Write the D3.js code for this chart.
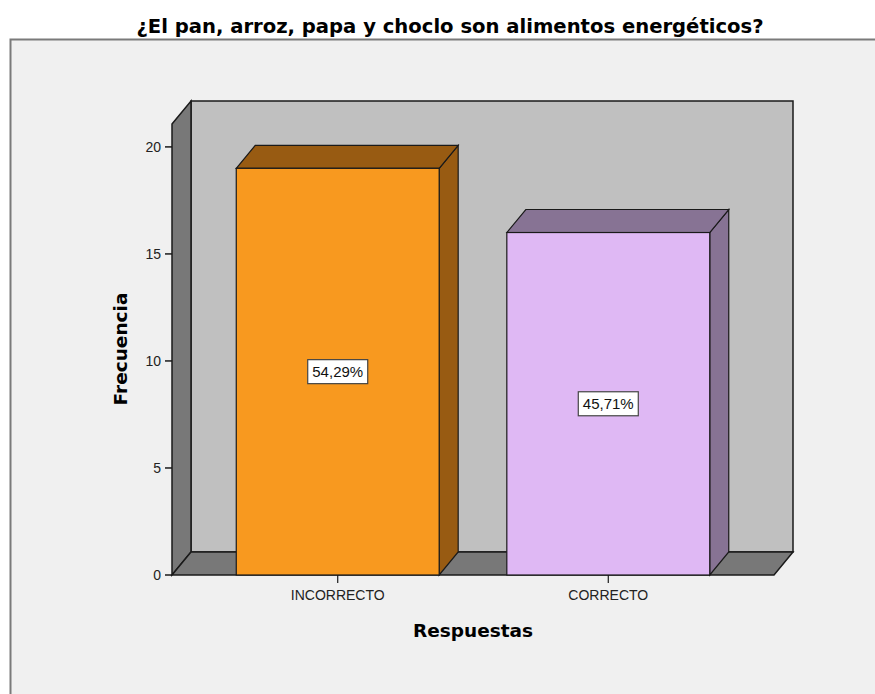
<!DOCTYPE html>
<html>
<head>
<meta charset="utf-8">
<script src="https://cdn.jsdelivr.net/npm/d3@7"></script>
<style>
  html, body { margin: 0; padding: 0; background: #ffffff; }
  svg { display: block; }
</style>
</head>
<body>
<script>
const categories = ["INCORRECTO", "CORRECTO"];
const counts = [19, 16];
const percentLabels = ["54,29%", "45,71%"];
const yTicks = [0, 5, 10, 15, 20];
const yMax = 21.07;
const title = "¿El pan, arroz, papa y choclo son alimentos energéticos?";
const xTitle = "Respuestas";
const yTitle = "Frecuencia";
const frontColors = ["#F8991F", "#DFB8F4"];
const sideColors = ["#985B12", "#877394"];

const W = 875, H = 694;
const svg = d3.select("body").append("svg").attr("width", W).attr("height", H);

// background panel
svg.append("rect").attr("x", 0).attr("y", 0).attr("width", W).attr("height", H).attr("fill", "#ffffff");
svg.append("rect").attr("x", 10).attr("y", 40).attr("width", W - 10).attr("height", H - 40).attr("fill", "#f0f0f0");
svg.append("path").attr("d", `M10.5,${H} L10.5,39.5 L${W},39.5`).attr("fill", "none").attr("stroke", "#7a7a7a").attr("stroke-width", 2);

svg.append("text").attr("x", 450).attr("y", 33).attr("text-anchor", "middle")
  .attr("font-family", "DejaVu Sans, sans-serif").attr("font-weight", "bold")
  .attr("font-size", 19.6).attr("fill", "#000").text(title);

const x0 = 172, x1 = 774, yBottom = 575, yTop = 124;
const dx = 19, dy = -23;

const y = d3.scaleLinear().domain([0, yMax]).range([yBottom, yTop]);
const x = d3.scaleBand().domain(categories).range([x0, x1]).paddingInner(0.25).paddingOuter(0.2375);

const g = svg.append("g");
const strokeC = "#1a1a1a";

// back wall
g.append("rect").attr("x", x0 + dx).attr("y", yTop + dy).attr("width", x1 - x0).attr("height", yBottom - yTop)
  .attr("fill", "#c0c0c0").attr("stroke", strokeC).attr("stroke-width", 1.5);
// left wall
g.append("polygon").attr("points", [[x0, yTop], [x0 + dx, yTop + dy], [x0 + dx, yBottom + dy], [x0, yBottom]].join(" "))
  .attr("fill", "#787878").attr("stroke", strokeC).attr("stroke-width", 1.5);
// floor
g.append("polygon").attr("points", [[x0, yBottom], [x0 + dx, yBottom + dy], [x1 + dx, yBottom + dy], [x1, yBottom]].join(" "))
  .attr("fill", "#787878").attr("stroke", strokeC).attr("stroke-width", 1.5);

// bars
categories.forEach((c, i) => {
  const bx = x(c), bw = x.bandwidth(), by = y(counts[i]);
  g.append("polygon").attr("points", [[bx + bw, by], [bx + bw + dx, by + dy], [bx + bw + dx, yBottom + dy], [bx + bw, yBottom]].join(" "))
    .attr("fill", sideColors[i]).attr("stroke", strokeC).attr("stroke-width", 1.2);
  g.append("polygon").attr("points", [[bx, by], [bx + dx, by + dy], [bx + bw + dx, by + dy], [bx + bw, by]].join(" "))
    .attr("fill", sideColors[i]).attr("stroke", strokeC).attr("stroke-width", 1.2);
  g.append("rect").attr("x", bx).attr("y", by).attr("width", bw).attr("height", yBottom - by)
    .attr("fill", frontColors[i]).attr("stroke", strokeC).attr("stroke-width", 1.2);
});

// y axis ticks
const yAxis = g.append("g");
yTicks.forEach(t => {
  yAxis.append("line").attr("x1", x0 - 7).attr("x2", x0).attr("y1", y(t)).attr("y2", y(t)).attr("stroke", strokeC).attr("stroke-width", 1.5);
  yAxis.append("text").attr("x", x0 - 11).attr("y", y(t)).attr("dy", "0.36em").attr("text-anchor", "end")
    .attr("font-family", "Liberation Sans, Arial, sans-serif").attr("font-size", 14).attr("fill", "#222").text(t);
});

// x ticks
categories.forEach(c => {
  const cx = x(c) + x.bandwidth() / 2;
  g.append("line").attr("x1", cx).attr("x2", cx).attr("y1", yBottom).attr("y2", yBottom + 8).attr("stroke", strokeC).attr("stroke-width", 1.2);
  g.append("text").attr("x", cx).attr("y", yBottom + 25).attr("text-anchor", "middle")
    .attr("font-family", "Liberation Sans, Arial, sans-serif").attr("font-size", 14).attr("fill", "#222").text(c);
});

// data labels
categories.forEach((c, i) => {
  const cx = x(c) + x.bandwidth() / 2;
  const cy = (y(counts[i]) + yBottom) / 2;
  const lg = g.append("g");
  lg.append("rect").attr("x", cx - 30).attr("y", cy - 12).attr("width", 60).attr("height", 24)
    .attr("fill", "#ffffff").attr("stroke", "#444").attr("stroke-width", 1.2);
  lg.append("text").attr("x", cx).attr("y", cy).attr("dy", "0.36em").attr("text-anchor", "middle")
    .attr("font-family", "Liberation Sans, Arial, sans-serif").attr("font-size", 15).attr("fill", "#111").text(percentLabels[i]);
});

// axis titles
svg.append("text").attr("x", 473).attr("y", 637).attr("text-anchor", "middle")
  .attr("font-family", "DejaVu Sans, sans-serif").attr("font-weight", "bold").attr("font-size", 18.5)
  .attr("fill", "#000").text(xTitle);
svg.append("text").attr("transform", "translate(127,349) rotate(-90)").attr("text-anchor", "middle")
  .attr("font-family", "DejaVu Sans, sans-serif").attr("font-weight", "bold").attr("font-size", 18.5)
  .attr("fill", "#000").text(yTitle);
</script>
</body>
</html>
